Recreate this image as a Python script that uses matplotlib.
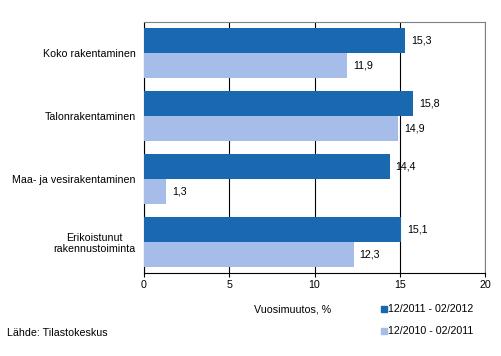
import matplotlib
matplotlib.use("Agg")
import matplotlib.pyplot as plt
import numpy as np

categories = ["Koko rakentaminen", "Talonrakentaminen", "Maa- ja vesirakentaminen", "Erikoistunut\nrakennustoiminta"]
series_names = ["12/2011 - 02/2012", "12/2010 - 02/2011"]
values_2012 = [15.3, 15.8, 14.4, 15.1]
values_2011 = [11.9, 14.9, 1.3, 12.3]
xticks = [0, 5, 10, 15, 20]

plt.rcParams['font.family'] = ['Liberation Sans', 'DejaVu Sans']
fs = 7.7
dark = '#1a69b0'
light = '#a6bce9'

fig = plt.figure(figsize=(5.02, 3.56), dpi=100)
ax = fig.add_axes([144/502, 1-273/356, (485-144)/502, (273-22)/356])
y = np.arange(len(categories))
h = 0.4
ax.barh(y - h/2, values_2012, height=h, color=dark, zorder=3)
ax.barh(y + h/2, values_2011, height=h, color=light, zorder=3)
for yi, v in zip(y, values_2012):
    ax.text(v + 0.35, yi - h/2, f"{v:.1f}".replace('.', ','), va='center', ha='left', fontsize=fs)
for yi, v in zip(y, values_2011):
    ax.text(v + 0.35, yi + h/2, f"{v:.1f}".replace('.', ','), va='center', ha='left', fontsize=fs)

ax.set_xlim(0, 20)
ax.set_ylim(3.5, -0.5)
ax.set_xticks(xticks)
ax.set_xticklabels([str(t) for t in xticks], fontsize=fs)
ax.set_yticks(y)
ax.set_yticklabels(categories, fontsize=fs, ha='right', multialignment='center')
ax.tick_params(axis='y', length=0, pad=6)
ax.tick_params(axis='x', length=3, width=0.8, direction='out', pad=2)
ax.xaxis.grid(True, color='black', linewidth=0.8, zorder=0)
ax.set_axisbelow(True)
for s in ['top', 'right']:
    ax.spines[s].set_color('#808080')
    ax.spines[s].set_linewidth(0.8)
ax.spines['left'].set_color('black')
ax.spines['bottom'].set_color('black')
ax.spines['left'].set_linewidth(0.8)
ax.spines['bottom'].set_linewidth(0.8)

fig.text(293/502, 1-310/356, "Vuosimuutos, %", ha='center', va='center', fontsize=fs)
fig.text(7/502, 1-333/356, "Lähde: Tilastokeskus", ha='left', va='center', fontsize=fs)
for i, (name, col) in enumerate(zip(series_names, [dark, light])):
    yy = 1 - (309 + 22*i)/356
    fig.patches.append(matplotlib.patches.Rectangle((381/502, yy - 3/356), 6/502, 6/356,
                                                    transform=fig.transFigure, color=col))
    fig.text(388/502, yy, name, ha='left', va='center', fontsize=fs)

fig.savefig("out.png", dpi=100)
